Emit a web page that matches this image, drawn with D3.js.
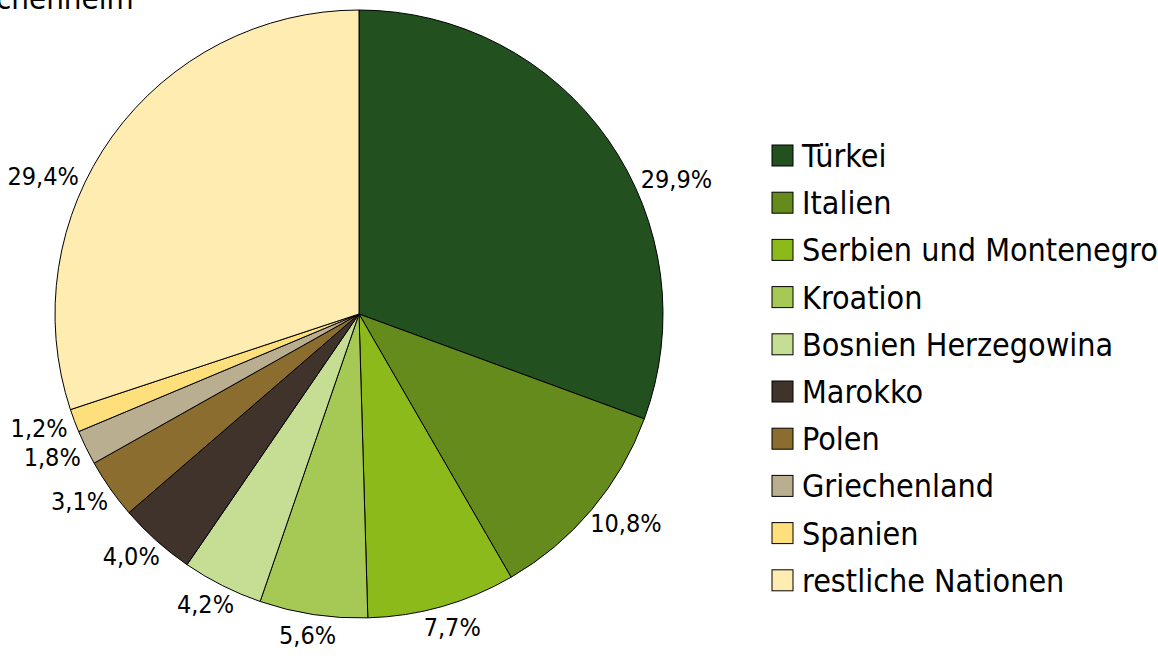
<!DOCTYPE html>
<html lang="de">
<head>
    <meta charset="UTF-8">
    <script src="https://cdn.jsdelivr.net/npm/d3@7"></script>
    <title>Ausländer nach Nationen</title>
    <style>
        body {
            margin: 0;
            background: white;
        }

        text {
            font-family: "DejaVu Sans Condensed", "DejaVu Sans", Verdana, sans-serif;
            font-stretch: condensed;
            fill: black;
        }

        .slice {
            stroke: black;
            stroke-width: 1px;
        }
    </style>
</head>
<body>
    <svg id="chart"></svg>

    <script>
        const width = 1158;
        const height = 661;

        // Anteile der Nationen (Prozent)
        const nations = ["Türkei", "Italien", "Serbien und Montenegro", "Kroation", "Bosnien Herzegowina",
            "Marokko", "Polen", "Griechenland", "Spanien", "restliche Nationen"];
        const shares = [29.9, 10.8, 7.7, 5.6, 4.2, 4.0, 3.1, 1.8, 1.2, 29.4];
        const colors = ["#22511f", "#658b1c", "#8bba1a", "#a6c956", "#c6de93",
            "#40332b", "#8b6e2f", "#b9ae90", "#fde07c", "#feecb1"];

        const data = nations.map((name, i) => ({ name: name, value: shares[i], color: colors[i] }));

        const svg = d3.select("#chart")
            .attr("width", width)
            .attr("height", height);

        // Titel liegt zum Teil außerhalb des Bildes
        svg.append("text")
            .attr("x", -4)
            .attr("y", 9)
            .style("font-size", "31px")
            .text("chenheim");

        const cx = 359, cy = 314, radius = 304;

        const pie = d3.pie()
            .sort(null)
            .value(d => d.value);

        const arc = d3.arc()
            .innerRadius(0)
            .outerRadius(radius);

        const arcs = pie(data);

        const g = svg.append("g")
            .attr("transform", `translate(${cx},${cy})`);

        g.selectAll("path")
            .data(arcs)
            .enter()
            .append("path")
            .attr("class", "slice")
            .attr("d", arc)
            .attr("fill", d => d.data.color);

        // Beschriftung außen; große Segmente etwas zur Waagrechten schieben
        const fmt = v => d3.format(".1f")(v).replace(".", ",") + "%";
        const labelH = 25;

        const labels = g.selectAll(".lbl")
            .data(arcs)
            .enter()
            .append("text")
            .attr("class", "lbl")
            .attr("text-anchor", "middle")
            .attr("dominant-baseline", "central")
            .style("font-size", "25px")
            .text(d => fmt(d.data.value));

        labels.each(function (d) {
            const w = this.getComputedTextLength();
            let a = (d.startAngle + d.endAngle) / 2;
            if (d.endAngle - d.startAngle > Math.PI / 2) {
                const horiz = a < Math.PI ? Math.PI / 2 : 3 * Math.PI / 2;
                a = a + (horiz - a) * 0.3;
            }
            const ux = Math.sin(a), uy = -Math.cos(a);
            const r = radius + 9;
            d3.select(this)
                .attr("x", r * ux + ux * w / 2)
                .attr("y", r * uy + uy * labelH / 2);
        });

        // Legende
        const legend = svg.append("g")
            .attr("transform", "translate(772,155)");

        const rowStep = 47.2;

        const rows = legend.selectAll("g")
            .data(data)
            .enter()
            .append("g")
            .attr("transform", (d, i) => `translate(0,${i * rowStep})`);

        rows.append("rect")
            .attr("x", 0)
            .attr("y", -10)
            .attr("width", 21)
            .attr("height", 21)
            .attr("fill", d => d.color)
            .attr("stroke", "black")
            .attr("stroke-width", 1);

        rows.append("text")
            .attr("x", 30)
            .attr("y", 1)
            .attr("dominant-baseline", "central")
            .style("font-size", "32px")
            .text(d => d.name);
    </script>
</body>
</html>
